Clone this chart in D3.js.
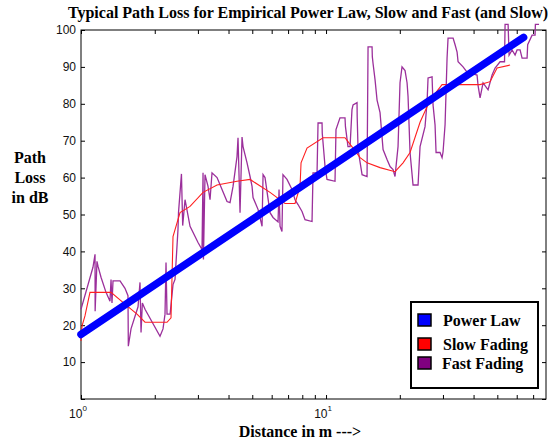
<!DOCTYPE html>
<html>
<meta charset="utf-8">
<body style="margin:0;background:#fff">
<script src="https://d3js.org/d3.v7.min.js"></script>
<script>

// values: distance in m (log axis), path loss in dB
var powerDist = [1, 64];
var powerLoss = [17.5, 98];

var slowDist = [1.0, 1.01, 1.038, 1.088, 1.326, 1.512, 1.693, 1.825, 2.244, 2.33, 2.374, 2.536, 2.786, 3.148, 3.591, 4.332, 4.896, 5.908, 6.80, 7.471, 7.832, 7.907, 8.363, 9.723, 11.95, 12.89, 13.77, 14.70, 16.61, 19.12, 20.62, 22.02, 24.19, 26.58, 29.75, 42.52, 46.71, 49.89, 56.37];
var slowLoss = [15.7, 19.8, 22.5, 28.9, 28.9, 25.7, 23, 20.8, 20.8, 22, 44, 50.5, 52.2, 56, 58, 59, 59.5, 56, 53, 53, 57.6, 64, 68, 70.8, 70.8, 68, 65.4, 64, 62.7, 61.6, 64, 66.8, 75, 81, 85.2, 85.2, 86, 89.7, 90.5];

var fastDist = [1.0, 1.119, 1.141, 1.142, 1.162, 1.173, 1.207, 1.265, 1.313, 1.326, 1.338, 1.351, 1.443, 1.512, 1.555, 1.56, 1.60, 1.709, 1.741, 1.758, 1.78, 1.825, 2.101, 2.161, 2.202, 2.223, 2.244, 2.31, 2.374, 2.419, 2.488, 2.50, 2.57, 2.60, 2.658, 2.786, 3.003, 3.118, 3.148, 3.16, 3.207, 3.299, 3.362, 3.425, 3.591, 3.763, 3.944, 4.057, 4.173, 4.332, 4.373, 4.457, 4.541, 4.584, 4.760, 4.896, 4.989, 5.036, 5.278, 5.481, 5.533, 5.636, 5.908, 6.077, 6.369, 6.429, 6.491, 6.609, 6.672, 6.929, 7.263, 7.471, 7.685, 7.980, 8.208, 8.767, 8.849, 9.190, 9.276, 9.631, 9.65, 9.906, 10.09, 10.88, 10.98, 11.40, 11.95, 12.0, 12.29, 12.53, 12.76, 12.89, 13.38, 13.40, 13.51, 14.03, 14.70, 14.84, 15.41, 15.45, 15.55, 15.85, 16.15, 16.61, 17.09, 17.74, 18.25, 18.77, 19.12, 19.67, 20.04, 20.42, 21.01, 21.41, 21.61, 22.02, 22.65, 23.74, 24.19, 25.35, 25.84, 26.08, 27.08, 27.33, 27.85, 28.12, 29.19, 29.75, 30.03, 30.60, 31.18, 31.47, 33.00, 33.62, 34.26, 34.58, 36.24, 37.63, 41.33, 41.72, 42.52, 43.32, 43.73, 45.84, 47.60, 48.96, 51.31, 53.5, 53.78, 55.33, 55.84, 57.44, 59.08, 60.2, 61.92, 63.1, 66.14, 66.5, 69.32, 71.3, 71.5, 74];
var fastLoss = [24.3, 35.7, 39.2, 23.8, 37.3, 36, 33, 28.9, 26.5, 32.4, 26, 32, 32, 30, 28, 14.3, 19, 25, 31.6, 18, 26, 24.3, 17, 19, 23, 37, 23, 23, 31, 32.4, 46, 50.5, 61, 47, 54, 46.8, 42.4, 40.5, 61.3, 37.8, 60.8, 57.6, 54, 61.3, 60, 56.8, 53.5, 53.2, 57.6, 65.7, 70.8, 50.5, 71, 68.4, 64, 60.3, 57.6, 54.6, 51.4, 46.8, 60.8, 60, 50.5, 49.2, 48, 56.8, 46.8, 45.4, 60.8, 59.5, 56.8, 54, 52.7, 50.8, 48.6, 48.1, 61.3, 61.3, 74.8, 74.8, 72, 63, 59.5, 59, 73, 76.2, 76.2, 73.8, 68.4, 68.4, 78.4, 79.7, 80.3, 76.5, 67.6, 60.8, 60.3, 95.4, 95.4, 92.7, 91, 86.5, 81, 77.6, 67.6, 64.9, 63, 62.2, 60.3, 68.4, 85.7, 90, 89, 85.7, 82, 66.8, 58, 58, 68.4, 73.8, 80.5, 87, 87.3, 79.7, 74.3, 66.8, 66.8, 65.4, 67, 74.3, 92.4, 97.8, 97.8, 96, 94, 91.4, 90, 88.6, 87.8, 85, 81.6, 84.3, 85.7, 83.8, 87.8, 89.7, 91.4, 91.4, 101.5, 101.5, 93.2, 94.6, 93.2, 94.6, 94.6, 92.4, 92.4, 96, 98.6, 98.6, 101.5, 101.5];

var yTicks = [0, 10, 20, 30, 40, 50, 60, 70, 80, 90, 100];
var xTicks = [1, 2, 3, 4, 5, 6, 7, 8, 9, 10, 20, 30, 40, 50, 60, 70];
var xLabelTicks = [1, 10];
var xLabelExp = ["0", "1"];

var legendNames = ["Power Law", "Slow Fading", "Fast Fading"];
var legendColors = ["#0000ff", "#ff0000", "#800080"];

var width = 552, height = 442;
var serif = "'Liberation Serif','Times New Roman',serif";
var sans = "'Liberation Sans',Arial,sans-serif";

var svg = d3.select("body")
  .append("svg")
  .attr("width", width)
  .attr("height", height)
  .style("display", "block");

svg.append("rect").attr("width", width).attr("height", height).attr("fill", "#fff");

var x = d3.scaleLog().domain([1, 79]).range([81, 546]);
var y = d3.scaleLinear().domain([0, 100]).range([399, 30]);

// ticks on all four sides, pointing inward
var left = svg.append("g")
  .attr("transform", "translate(" + x(1) + ",0)")
  .call(d3.axisLeft(y).tickValues(yTicks).tickSize(-4).tickSizeOuter(0).tickPadding(5)
    .tickFormat(function(d) { return d === 0 ? "" : d; }));
svg.append("g")
  .attr("transform", "translate(" + x(79) + ",0)")
  .call(d3.axisRight(y).tickValues(yTicks).tickSize(-4).tickSizeOuter(0).tickFormat(""));
svg.append("g")
  .attr("transform", "translate(0," + y(0) + ")")
  .call(d3.axisBottom(x).tickValues(xTicks).tickSize(-4).tickSizeOuter(0).tickFormat(""));
svg.append("g")
  .attr("transform", "translate(0," + y(100) + ")")
  .call(d3.axisTop(x).tickValues(xTicks).tickSize(-4).tickSizeOuter(0).tickFormat(""));

svg.selectAll(".domain").remove();
svg.selectAll(".tick line").attr("stroke", "#000");
left.selectAll("text")
  .style("font-family", sans)
  .style("font-size", "12px")
  .attr("fill", "#111");

// axes box
svg.append("rect")
  .attr("x", x(1))
  .attr("y", y(100))
  .attr("width", x(79) - x(1))
  .attr("height", y(0) - y(100))
  .attr("fill", "none")
  .attr("stroke", "#000")
  .attr("stroke-width", 1);

// x tick labels 10^0, 10^1
var xl = svg.append("g").selectAll("text")
  .data(xLabelTicks)
  .enter().append("text")
  .attr("x", function(d) { return x(d) - 3; })
  .attr("y", 418)
  .attr("text-anchor", "middle")
  .style("font-family", sans)
  .style("font-size", "12px")
  .attr("fill", "#111")
  .text("10");
xl.append("tspan")
  .attr("dy", -7)
  .style("font-size", "8px")
  .text(function(d, i) { return xLabelExp[i]; });

var line = d3.line()
  .x(function(d) { return x(d[0]); })
  .y(function(d) { return y(d[1]); });

svg.append("path")
  .datum(d3.zip(fastDist, fastLoss))
  .attr("d", line)
  .attr("fill", "none")
  .attr("stroke", "#9b2f9b")
  .attr("stroke-width", 1.3);

svg.append("path")
  .datum(d3.zip(slowDist, slowLoss))
  .attr("d", line)
  .attr("fill", "none")
  .attr("stroke", "#ff2020")
  .attr("stroke-width", 1.1);

svg.append("path")
  .datum(d3.zip(powerDist, powerLoss))
  .attr("d", line)
  .attr("fill", "none")
  .attr("stroke", "#0000ff")
  .attr("stroke-width", 7.5)
  .attr("stroke-linecap", "round");

// title and axis labels
svg.append("text")
  .attr("x", 308)
  .attr("y", 18)
  .attr("text-anchor", "middle")
  .style("font-family", serif)
  .style("font-weight", "bold")
  .style("font-size", "16px")
  .text("Typical Path Loss for Empirical Power Law, Slow and Fast (and Slow)");

svg.append("text")
  .attr("x", 300)
  .attr("y", 437)
  .attr("text-anchor", "middle")
  .style("font-family", serif)
  .style("font-weight", "bold")
  .style("font-size", "16px")
  .text("Distance in m --->");

svg.append("g").selectAll("text")
  .data(["Path", "Loss", "in dB"])
  .enter().append("text")
  .attr("x", 30)
  .attr("y", function(d, i) { return 163 + i * 20; })
  .attr("text-anchor", "middle")
  .style("font-family", serif)
  .style("font-weight", "bold")
  .style("font-size", "16px")
  .text(function(d) { return d; });

// legend
var legend = svg.append("g").attr("transform", "translate(411,302)");
legend.append("rect")
  .attr("width", 127)
  .attr("height", 86)
  .attr("fill", "#fff")
  .attr("stroke", "#000")
  .attr("stroke-width", 2);

var item = legend.selectAll("g.item")
  .data(legendNames)
  .enter().append("g")
  .attr("class", "item")
  .attr("transform", function(d, i) { return "translate(0," + [12, 36, 55][i] + ")"; });

item.append("rect")
  .attr("x", 7)
  .attr("width", 13)
  .attr("height", 12)
  .attr("fill", function(d, i) { return legendColors[i]; })
  .attr("stroke", "#000")
  .attr("stroke-width", 1.5);

item.append("text")
  .attr("x", function(d, i) { return [32, 32, 31][i]; })
  .attr("y", 12)
  .style("font-family", serif)
  .style("font-weight", "bold")
  .style("font-size", "16px")
  .text(function(d) { return d; });

</script>
</body>
</html>
